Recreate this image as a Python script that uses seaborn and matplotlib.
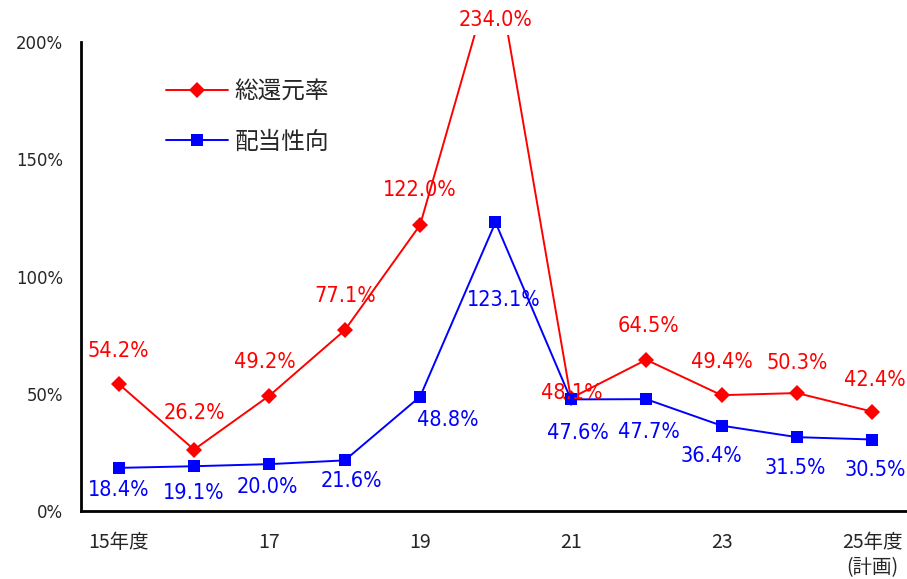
import matplotlib
matplotlib.use("Agg")
import matplotlib.pyplot as plt
import matplotlib.font_manager as fm
import seaborn as sns
import pandas as pd
from matplotlib.lines import Line2D

# Fiscal years and payout metrics (%)
years = ["15年度", "16", "17", "18", "19", "20", "21", "22", "23", "24", "25年度\n(計画)"]
total_return = [54.2, 26.2, 49.2, 77.1, 122.0, 234.0, 48.1, 64.5, 49.4, 50.3, 42.4]
payout_ratio = [18.4, 19.1, 20.0, 21.6, 48.8, 123.1, 47.6, 47.7, 36.4, 31.5, 30.5]
tick_labels = ["15年度", "17", "19", "21", "23", "25年度\n(計画)"]
yticks = [0, 50, 100, 150, 200]

RED = "#FF0000"
BLUE = "#0000FF"
JP_FONT = ["Noto Sans CJK JP", "DejaVu Sans"]


def narrow_font_path():
    """Return a condensed sans font file if one is installed."""
    for f in fm.fontManager.ttflist:
        name = f.name.lower()
        stretch = str(f.stretch).lower()
        if f.style == "normal" and str(f.weight) in ("400", "normal") and (
                "narrow" in name or "condensed" in stretch or "condensed" in name):
            return f.fname
    return None


sns.set_style("white")
plt.rcParams["font.family"] = JP_FONT

npath = narrow_font_path()
if npath:
    label_fp = fm.FontProperties(fname=npath, size=15.5)
    tick_fp = fm.FontProperties(fname=npath, size=13.2)
else:
    label_fp = fm.FontProperties(family=JP_FONT, size=15)
    tick_fp = fm.FontProperties(family=JP_FONT, size=13)

df = pd.DataFrame({
    "idx": list(range(len(years))) * 2,
    "value": total_return + payout_ratio,
    "series": ["総還元率"] * len(years) + ["配当性向"] * len(years),
})

fig = plt.figure(figsize=(9.07, 5.79), dpi=100)
ax = fig.add_axes([0.0893, 0.1174, 0.914, 0.8222])

sns.lineplot(
    data=df, x="idx", y="value", hue="series", style="series",
    palette={"総還元率": RED, "配当性向": BLUE},
    markers={"総還元率": "D", "配当性向": "s"}, dashes=False,
    markersize=8.5, markeredgewidth=0, linewidth=1.4, legend=False, ax=ax,
)

ax.set_xlim(-0.5, len(years) - 0.5)
ax.set_ylim(0, 203)
ax.spines["left"].set_bounds(0, 200)
for s in ["top", "right"]:
    ax.spines[s].set_visible(False)
for s in ["left", "bottom"]:
    ax.spines[s].set_linewidth(2)
    ax.spines[s].set_color("black")

ax.set_yticks(yticks)
ax.set_yticklabels([f"{v}%" for v in yticks], fontproperties=tick_fp)
ax.set_xticks([0, 2, 4, 6, 8, 10])
ax.set_xticklabels(tick_labels, fontsize=14, linespacing=1.25, va="top")
ax.set_xticks([i + 0.5 for i in range(len(years) - 1)], minor=True)
ax.tick_params(axis="y", direction="in", length=5, width=1.5, pad=13)
ax.tick_params(axis="x", which="major", length=0, pad=15)
ax.tick_params(axis="x", which="minor", direction="in", length=5, width=1.5)
ax.set_xlabel("")
ax.set_ylabel("")
ax.grid(False)

# Value labels (offsets in points from each marker)
red_off = [(0, 24), (0, 26.5), (-3.5, 24), (0, 24.5), (0, 25), (0, 0), (1, 3.6), (1.5, 24), (0, 24), (0, 22), (2, 23)]
blue_off = [(0, -16), (0, -19), (-1.5, -16.5), (5, -14.5), (20, -17), (6, -56), (5, -24), (2, -24), (-7, -22), (-1.5, -22), (2, -22)]

for i, v in enumerate(total_return):
    if v > 200:
        ax.annotate(f"{v:.1f}%", xy=(i, 203), xytext=(0, 11), textcoords="offset points",
                    ha="center", va="center", color=RED, fontproperties=label_fp,
                    annotation_clip=False,
                    bbox=dict(facecolor="white", edgecolor="none", pad=1))
    else:
        ax.annotate(f"{v:.1f}%", xy=(i, v), xytext=red_off[i], textcoords="offset points",
                    ha="center", va="center", color=RED, fontproperties=label_fp)
for i, v in enumerate(payout_ratio):
    ax.annotate(f"{v:.1f}%", xy=(i, v), xytext=blue_off[i], textcoords="offset points",
                ha="center", va="center", color=BLUE, fontproperties=label_fp)

handles = [
    Line2D([0], [0], color=RED, marker="D", markersize=8.5, markeredgewidth=0, linewidth=1.4),
    Line2D([0], [0], color=BLUE, marker="s", markersize=8.5, markeredgewidth=0, linewidth=1.4),
]
ax.legend(handles, ["総還元率", "配当性向"], loc="upper left", bbox_to_anchor=(0.0765, 0.949),
          frameon=False, prop={"family": JP_FONT, "size": 17}, handlelength=2.65,
          labelspacing=1.15, handletextpad=0.25)

fig.savefig("out.png", dpi=100)
